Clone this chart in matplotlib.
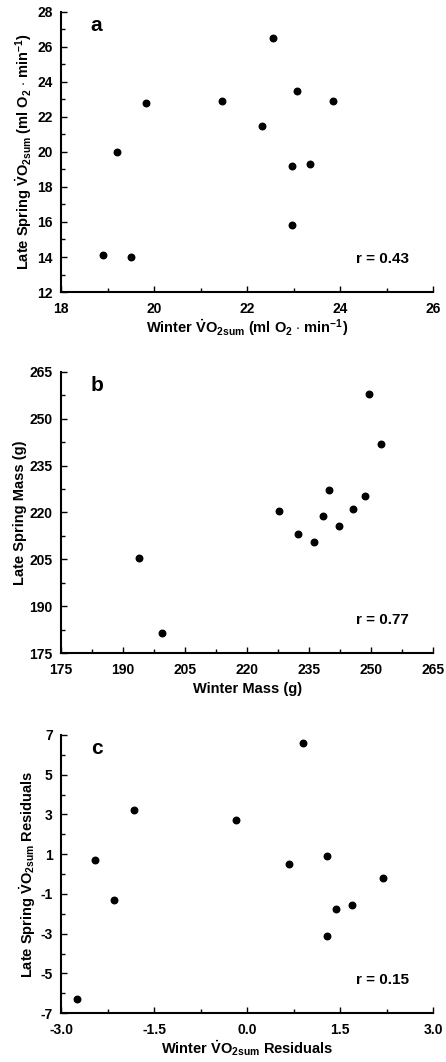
import numpy as np
import matplotlib
matplotlib.use("Agg")
import matplotlib.pyplot as plt
from matplotlib.ticker import FixedLocator, FormatStrFormatter
from matplotlib import font_manager

# panel a: whole-animal VO2sum
winter_vo2 = [18.9, 19.5, 19.2, 19.83, 21.47, 22.33, 22.56, 23.08, 23.85, 22.96, 23.35, 22.96]
spring_vo2 = [14.1, 14.0, 20.0, 22.8, 22.9, 21.5, 26.5, 23.5, 22.9, 19.2, 19.3, 15.8]

# panel b: body mass
winter_mass = [193.9, 199.3, 227.8, 232.3, 236.1, 238.3, 239.7, 242.2, 245.7, 248.5, 249.5, 252.3]
spring_mass = [205.5, 181.4, 220.5, 213.1, 210.4, 218.7, 227.1, 215.8, 221.2, 225.4, 257.9, 241.8]

# panel c: mass-corrected residuals
winter_resid = [-2.75, -2.46, -2.15, -1.82, -0.18, 0.67, 0.91, 1.29, 1.29, 1.43, 1.69, 2.2]
spring_resid = [-6.3, 0.7, -1.3, 3.2, 2.7, 0.5, 6.6, 0.9, -3.1, -1.77, -1.55, -0.2]

r_values = ["r = 0.43", "r = 0.77", "r = 0.15"]
panel_letters = ["a", "b", "c"]

names = [f.name for f in font_manager.fontManager.ttflist]
fam = "Liberation Sans Narrow" if "Liberation Sans Narrow" in names else "Liberation Sans"

plt.rcParams["font.family"] = [fam, "DejaVu Sans"]
plt.rcParams["font.weight"] = "bold"
plt.rcParams["axes.unicode_minus"] = False
plt.rcParams["mathtext.fontset"] = "custom"
plt.rcParams["mathtext.rm"] = fam + ":bold"
plt.rcParams["mathtext.it"] = fam + ":bold"
plt.rcParams["mathtext.bf"] = fam + ":bold"

vo2 = r"$\dot{\mathrm{V}}\mathrm{O}_{\mathrm{2sum}}$"
units = r" (ml O$_2$ $\cdot$ min$^{\mathrm{-1}}$)"

panels = [
    dict(x=winter_vo2, y=spring_vo2, xlim=(18, 26), ylim=(12, 28),
         xstep=2, ystep=2, xfmt="%d", yfmt="%d", xpad=1,
         xlabel="Winter " + vo2 + units, ylabel="Late Spring " + vo2 + units),
    dict(x=winter_mass, y=spring_mass, xlim=(175, 265), ylim=(175, 265),
         xstep=15, ystep=15, xfmt="%d", yfmt="%d", xpad=4,
         xlabel="Winter Mass (g)", ylabel="Late Spring Mass (g)"),
    dict(x=winter_resid, y=spring_resid, xlim=(-3, 3), ylim=(-7, 7),
         xstep=1.5, ystep=2, xfmt="%.1f", yfmt="%d", xpad=1,
         xlabel="Winter " + vo2 + " Residuals", ylabel="Late Spring " + vo2 + " Residuals"),
]

fig = plt.figure(figsize=(4.46, 10.62), dpi=100)
rects = [[0.137, 0.725, 0.834, 0.264],
         [0.137, 0.385, 0.834, 0.265],
         [0.137, 0.046, 0.834, 0.262]]

for i, p in enumerate(panels):
    ax = fig.add_axes(rects[i])
    ax.scatter(p["x"], p["y"], s=22, color="black", zorder=3, clip_on=False)
    ax.set_xlim(*p["xlim"])
    ax.set_ylim(*p["ylim"])
    x0, x1 = p["xlim"]
    y0, y1 = p["ylim"]
    ax.xaxis.set_major_locator(FixedLocator(np.arange(x0, x1 + 1e-6, p["xstep"])))
    ax.xaxis.set_minor_locator(FixedLocator(np.arange(x0, x1 + 1e-6, p["xstep"] / 2)))
    ax.yaxis.set_major_locator(FixedLocator(np.arange(y0, y1 + 1e-6, p["ystep"])))
    ax.yaxis.set_minor_locator(FixedLocator(np.arange(y0, y1 + 1e-6, p["ystep"] / 2)))
    ax.xaxis.set_major_formatter(FormatStrFormatter(p["xfmt"]))
    ax.yaxis.set_major_formatter(FormatStrFormatter(p["yfmt"]))
    for s in ["top", "right"]:
        ax.spines[s].set_visible(False)
    for s in ["left", "bottom"]:
        ax.spines[s].set_linewidth(1.5)
    ax.tick_params(which="both", direction="in", width=1.0, labelsize=10)
    ax.tick_params(axis="x", which="major", length=4, pad=7)
    ax.tick_params(axis="y", which="major", length=4, pad=6)
    ax.tick_params(which="minor", length=3)
    for lab in ax.get_xticklabels() + ax.get_yticklabels():
        lab.set_fontweight("bold")
    ax.set_xlabel(p["xlabel"], fontsize=10.5, fontweight="bold", labelpad=p["xpad"])
    ax.set_ylabel(p["ylabel"], fontsize=10.5, fontweight="bold", labelpad=2)
    ax.text(0.08, 0.95, panel_letters[i], transform=ax.transAxes, fontsize=15,
            fontweight="bold", va="center", ha="left")
    ax.text(0.935, 0.118, r_values[i], transform=ax.transAxes, fontsize=11,
            fontweight="bold", va="center", ha="right")

fig.savefig("out.png", dpi=100)
